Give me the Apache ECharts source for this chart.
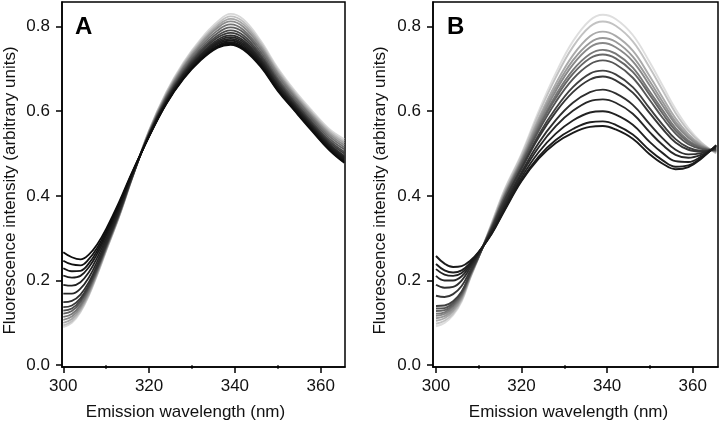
<!DOCTYPE html>
<html><head><meta charset="utf-8">
<script src="https://cdn.jsdelivr.net/npm/echarts@6/dist/echarts.min.js"></script>
<style>html,body{margin:0;padding:0;background:#fff}#c{width:720px;height:426px}</style>
</head><body><div id="c"></div>
<script>
// wavelengths (nm)
const wlA = [300,302,304,306,308,310,313,316,320,324,328,332,336,339,342,346,350,354,358,362,365.5];
const wlB = [300,302,304,306,308,310,313,316,320,324,328,332,336,339,342,346,350,353,356,359,362,365.5];
// Panel A spectra (darkest first)
const a00 = [.267,.255,.250,.262,.287,.322,.385,.455,.540,.617,.676,.720,.750,.757,.745,.705,.648,.600,.553,.508,.478];
const a01 = [.247,.238,.236,.251,.279,.316,.381,.453,.541,.618,.678,.722,.753,.760,.748,.708,.650,.602,.555,.510,.480];
const a02 = [.229,.222,.223,.241,.272,.311,.378,.452,.541,.619,.679,.724,.755,.763,.751,.710,.652,.604,.557,.512,.483];
const a03 = [.212,.207,.211,.232,.265,.306,.374,.450,.542,.621,.681,.727,.759,.767,.755,.714,.655,.607,.560,.515,.486];
const a04 = [.190,.188,.196,.220,.256,.299,.370,.449,.543,.622,.684,.730,.762,.771,.759,.717,.658,.609,.562,.518,.489];
const a05 = [.169,.169,.181,.208,.247,.293,.366,.447,.544,.624,.686,.732,.765,.775,.763,.720,.661,.612,.565,.520,.492];
const a06 = [.149,.152,.167,.197,.239,.287,.362,.445,.545,.625,.688,.735,.769,.779,.767,.724,.664,.614,.567,.523,.495];
const a07 = [.137,.141,.158,.191,.234,.284,.359,.444,.546,.628,.691,.739,.774,.785,.773,.729,.669,.618,.571,.527,.500];
const a08 = [.129,.134,.153,.186,.231,.281,.358,.443,.547,.630,.694,.743,.779,.791,.779,.734,.673,.622,.575,.531,.504];
const a09 = [.122,.128,.148,.183,.228,.279,.356,.443,.548,.633,.698,.748,.785,.798,.786,.740,.678,.627,.580,.536,.510];
const a10 = [.114,.121,.142,.178,.225,.277,.355,.442,.550,.635,.702,.753,.791,.805,.792,.746,.684,.632,.585,.541,.515];
const a11 = [.107,.115,.137,.174,.222,.275,.353,.441,.551,.638,.705,.758,.797,.812,.799,.752,.689,.636,.589,.546,.520];
const a12 = [.100,.109,.132,.170,.219,.273,.352,.441,.553,.640,.709,.762,.802,.818,.805,.757,.693,.640,.593,.550,.525];
const a13 = [.094,.104,.128,.167,.217,.271,.351,.440,.554,.643,.712,.766,.807,.824,.811,.762,.698,.644,.597,.554,.529];
const a14 = [.090,.100,.125,.165,.215,.270,.350,.440,.555,.645,.715,.770,.812,.830,.817,.767,.702,.648,.601,.558,.534];
// Panel B spectra (darkest first)
const b00 = [.258,.240,.232,.234,.247,.268,.310,.365,.435,.488,.525,.549,.563,.565,.557,.535,.498,.476,.463,.468,.488,.520];
const b01 = [.239,.224,.219,.224,.242,.267,.311,.367,.438,.493,.532,.558,.574,.576,.568,.545,.507,.484,.469,.472,.490,.519];
const b02 = [.227,.214,.211,.218,.239,.266,.313,.372,.444,.503,.547,.578,.597,.600,.592,.568,.527,.501,.482,.480,.493,.517];
const b03 = [.211,.200,.200,.210,.235,.264,.316,.377,.451,.515,.565,.601,.624,.628,.620,.594,.550,.520,.497,.490,.497,.515];
const b04 = [.190,.183,.185,.200,.230,.263,.318,.381,.456,.525,.579,.620,.645,.651,.642,.615,.569,.536,.509,.498,.501,.514];
const b05 = [.164,.161,.168,.187,.223,.261,.321,.387,.464,.538,.598,.645,.675,.682,.673,.644,.595,.558,.526,.509,.505,.511];
const b06 = [.140,.141,.151,.174,.217,.259,.323,.390,.467,.544,.607,.657,.689,.696,.687,.657,.606,.568,.534,.514,.507,.510];
const b07 = [.134,.135,.147,.171,.216,.258,.325,.395,.473,.554,.622,.676,.711,.720,.711,.679,.626,.584,.547,.522,.511,.508];
const b08 = [.128,.130,.143,.168,.214,.258,.326,.397,.477,.560,.631,.688,.725,.734,.725,.693,.638,.594,.554,.527,.513,.507];
const b09 = [.122,.125,.139,.165,.213,.257,.327,.399,.480,.565,.638,.697,.735,.745,.736,.703,.646,.602,.560,.531,.515,.506];
const b10 = [.117,.121,.135,.163,.211,.257,.329,.402,.483,.571,.648,.710,.751,.761,.751,.718,.660,.613,.569,.537,.517,.505];
const b11 = [.111,.116,.131,.160,.210,.257,.330,.405,.486,.577,.656,.720,.762,.773,.764,.729,.670,.622,.575,.541,.519,.504];
const b12 = [.105,.111,.127,.157,.208,.256,.331,.407,.490,.583,.665,.732,.777,.788,.778,.743,.682,.632,.583,.546,.521,.503];
const b13 = [.098,.105,.122,.153,.207,.256,.334,.412,.496,.593,.680,.752,.800,.812,.802,.765,.702,.649,.596,.554,.525,.501];
const b14 = [.092,.100,.118,.150,.205,.255,.335,.415,.500,.600,.690,.765,.815,.828,.818,.780,.715,.660,.605,.560,.527,.500];
const colorsA = ['#0d0d0d','#111111','#151515','#1a1a1a','#202020','#262626','#2e2e2e','#3a3a3a','#4a4a4a','#5e5e5e','#747474','#8c8c8c','#a6a6a6','#c0c0c0','#d8d8d8'];
const colorsB = ['#1a1a1a','#1e1e1e','#222222','#282828','#2e2e2e','#363636','#404040','#555555','#666666','#777777','#888888','#999999','#aaaaaa','#c2c2c2','#dedede'];
const xTicks = [300,320,340,360];
const xMinorTicks = [310,330,350];
const yTicks = [0,0.2,0.4,0.6,0.8];
const xTitle = 'Emission wavelength (nm)';
const yTitle = 'Fluorescence intensity (arbitrary units)';

const curvesA = [a00,a01,a02,a03,a04,a05,a06,a07,a08,a09,a10,a11,a12,a13,a14];
const curvesB = [b00,b01,b02,b03,b04,b05,b06,b07,b08,b09,b10,b11,b12,b13,b14];
const FONT = '"Liberation Sans", Arial, sans-serif';

function xAx(grid, min, max, padRight){
  return [{
    type:'value', gridIndex:grid, min:min, max:max,
    axisLine:{show:true, onZero:false, lineStyle:{color:'#000', width:1.5}},
    axisTick:{show:true, inside:false, length:6, customValues:xTicks, lineStyle:{color:'#000', width:1.5}},
    axisLabel:{show:true, customValues:xTicks, margin:11, fontSize:17, color:'#111', fontFamily:FONT},
    splitLine:{show:false},
    name:xTitle, nameLocation:'middle', nameGap:37,
    nameTextStyle:{fontSize:17, color:'#111', fontFamily:FONT, padding:[0,padRight,0,0]}
  },{
    type:'value', gridIndex:grid, min:min, max:max, position:'bottom',
    axisLine:{show:false},
    axisTick:{show:true, inside:false, length:3.5, customValues:xMinorTicks, lineStyle:{color:'#000', width:1.5}},
    axisLabel:{show:false}, splitLine:{show:false}
  }];
}
function yAx(grid, gap){
  return {
    type:'value', gridIndex:grid, min:-0.0042, max:0.858,
    axisLine:{show:true, onZero:false, lineStyle:{color:'#000', width:1.5}},
    axisTick:{show:true, inside:false, length:6, customValues:yTicks, lineStyle:{color:'#000', width:1.5}},
    axisLabel:{show:true, customValues:yTicks, margin:12, fontSize:17, color:'#111', fontFamily:FONT,
      formatter:function(v){return Number(v).toFixed(1);}},
    splitLine:{show:false},
    name:yTitle, nameLocation:'middle', nameGap:gap,
    nameTextStyle:{fontSize:17, color:'#111', fontFamily:FONT, padding:[0,12,0,0]}
  };
}

const series = [];
for (let i = 14; i >= 0; i--) {
  series.push({type:'line', xAxisIndex:0, yAxisIndex:0, showSymbol:false, smooth:0.4, silent:true,
    lineStyle:{color:colorsA[i], width:1.8}, data: wlA.map((x,k)=>[x, curvesA[i][k]])});
}
for (let i = 14; i >= 0; i--) {
  series.push({type:'line', xAxisIndex:2, yAxisIndex:1, showSymbol:false, smooth:0.4, silent:true,
    lineStyle:{color:colorsB[i], width:1.9}, data: wlB.map((x,k)=>[x, curvesB[i][k]])});
}

const chart = echarts.init(document.getElementById('c'), null, {renderer:'canvas'});
chart.setOption({
  animation:false,
  backgroundColor:'#fff',
  grid:[
    {left:62, top:2, width:283, height:366.5, show:true, borderColor:'#000', borderWidth:1.5, backgroundColor:'transparent'},
    {left:433, top:2, width:285, height:366.5, show:true, borderColor:'#000', borderWidth:1.5, backgroundColor:'transparent'}
  ],
  xAxis:[].concat(xAx(0, 299.70, 365.67, 36), xAx(1, 299.30, 365.92, 14)),
  yAxis:[yAx(0, 43), yAx(1, 44)],
  graphic:[
    {type:'text', left:75, top:15, style:{text:'A', font:'bold 24px '+FONT, fill:'#000'}},
    {type:'text', left:447, top:15, style:{text:'B', font:'bold 24px '+FONT, fill:'#000'}}
  ],
  series:series
});
</script></body></html>
